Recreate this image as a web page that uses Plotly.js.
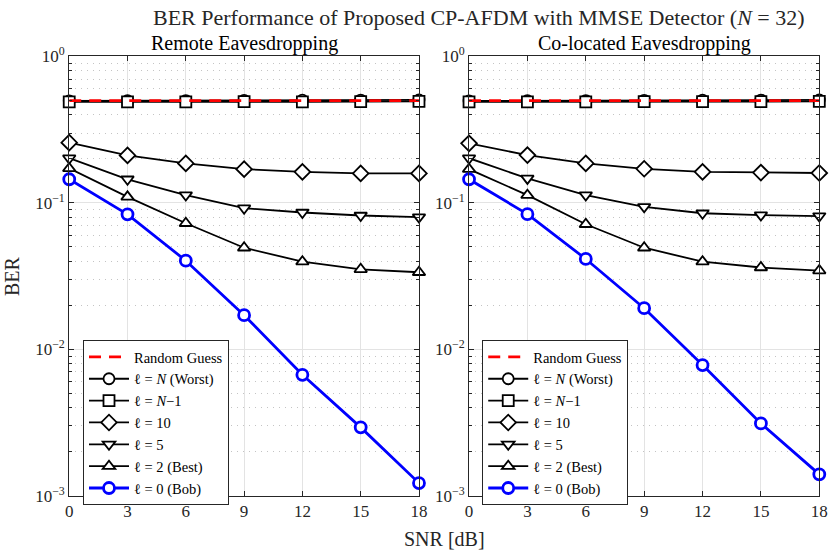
<!DOCTYPE html>
<html>
<head>
<meta charset="utf-8">
<script src="https://cdn.plot.ly/plotly-3.0.1.min.js"></script>
<style>
  body { margin: 0; background: #fff; }
  #chart { width: 830px; height: 557px; }
</style>
</head>
<body>
<div id="chart"></div>
<script>
// SNR points [dB]
var snr = [0, 3, 6, 9, 12, 15, 18];

// Remote eavesdropping
var guessR = [0.5, 0.5, 0.5, 0.5, 0.5, 0.5, 0.5];
var worstR = [0.497, 0.499, 0.500, 0.501, 0.503, 0.504, 0.505];
var nm1R = [0.490, 0.489, 0.490, 0.491, 0.490, 0.492, 0.493];
var l10R = [0.258, 0.211, 0.186, 0.170, 0.163, 0.159, 0.159];
var l5R = [0.202, 0.145, 0.113, 0.092, 0.086, 0.082, 0.080];
var l2R = [0.172, 0.110, 0.0726, 0.0494, 0.0397, 0.0352, 0.0336];
var bobR = [0.145, 0.0836, 0.0403, 0.0171, 0.0067, 0.00293, 0.00122];

// Co-located eavesdropping
var guessC = [0.5, 0.5, 0.5, 0.5, 0.5, 0.5, 0.5];
var worstC = [0.497, 0.499, 0.500, 0.502, 0.503, 0.504, 0.505];
var nm1C = [0.490, 0.490, 0.489, 0.491, 0.491, 0.492, 0.493];
var l10C = [0.255, 0.212, 0.186, 0.171, 0.163, 0.161, 0.160];
var l5C = [0.202, 0.147, 0.113, 0.094, 0.085, 0.0825, 0.0813];
var l2C = [0.170, 0.113, 0.0715, 0.0494, 0.0397, 0.0362, 0.0345];
var bobC = [0.145, 0.0838, 0.0414, 0.0191, 0.0078, 0.00312, 0.0014];

var names = ['Random Guess', 'ℓ = <i>N</i> (Worst)', 'ℓ = <i>N</i>−1', 'ℓ = 10',
             'ℓ = 5', 'ℓ = 2 (Best)', 'ℓ = 0 (Bob)'];
var symbols = ['circle', 'square', 'diamond', 'triangle-down', 'triangle-up'];

var font = 'Liberation Serif, Times New Roman, serif';

function makeTraces(sets, xa, ya, leg) {
  var traces = [];
  // black curves
  for (var i = 0; i < 5; i++) {
    traces.push({
      x: snr, y: sets[i + 1], xaxis: xa, yaxis: ya, legend: leg,
      name: names[i + 1], legendrank: i + 2,
      mode: 'lines+markers', cliponaxis: false,
      line: {color: '#000', width: 1.8},
      marker: {symbol: symbols[i], size: symbols[i] == 'diamond' ? 12 : 11, color: '#fff',
               line: {color: '#000', width: 1.8}}
    });
  }
  // Bob
  traces.push({
    x: snr, y: sets[6], xaxis: xa, yaxis: ya, legend: leg,
    name: names[6], legendrank: 7,
    mode: 'lines+markers', cliponaxis: false,
    line: {color: '#0000ff', width: 2.8},
    marker: {symbol: 'circle', size: 11, color: '#fff', line: {color: '#0000ff', width: 2.8}}
  });
  // random guess on top
  traces.push({
    x: snr, y: sets[0], xaxis: xa, yaxis: ya, legend: leg,
    name: names[0], legendrank: 1,
    mode: 'lines', cliponaxis: false,
    line: {color: '#ff0000', width: 2.8, dash: '12px,8px'}
  });
  return traces;
}

var data = makeTraces([guessR, worstR, nm1R, l10R, l5R, l2R, bobR], 'x', 'y', 'legend')
  .concat(makeTraces([guessC, worstC, nm1C, l10C, l5C, l2C, bobC], 'x2', 'y2', 'legend2'));

var minorVals = [];
for (var e = -3; e < 0; e++) {
  for (var m = 2; m <= 9; m++) minorVals.push(m * Math.pow(10, e));
}

function xAxis(dom, anchor) {
  return {
    domain: dom, anchor: anchor, range: [0, 18],
    tickvals: snr, ticktext: snr.map(String),
    showline: true, linecolor: '#262626', linewidth: 1, mirror: 'ticks',
    ticks: 'inside', ticklen: 5, tickcolor: '#262626',
    showgrid: true, gridcolor: '#e3e3e3', gridwidth: 1, zeroline: false,
    tickfont: {family: font, size: 17, color: '#262626'}
  };
}

function yAxis(dom, anchor) {
  return {
    domain: dom, anchor: anchor, type: 'log', range: [-3, 0],
    tickvals: [0.001, 0.01, 0.1, 1],
    ticktext: ['10<sup>−3</sup>', '10<sup>−2</sup>', '10<sup>−1</sup>', '10<sup>0</sup>'],
    showline: true, linecolor: '#262626', linewidth: 1, mirror: 'ticks',
    ticks: 'inside', ticklen: 5, tickcolor: '#262626',
    showgrid: true, gridcolor: '#e3e3e3', gridwidth: 1, zeroline: false,
    minor: {tickmode: 'array', tickvals: minorVals, ticks: 'inside', ticklen: 3,
            tickcolor: '#262626', showgrid: true, gridcolor: '#c4c4c4', griddash: '1px,5px'},
    tickfont: {family: font, size: 17, color: '#262626'}
  };
}

function legendBox(x) {
  return {
    x: x, y: 0.3896, xanchor: 'left', yanchor: 'top',
    bgcolor: '#fff', bordercolor: '#262626', borderwidth: 1,
    font: {family: font, size: 14.5, color: '#000'},
    tracegroupgap: 0, itemwidth: 40
  };
}

var yDom = [0.110, 0.8986];

var layout = {
  width: 830, height: 557,
  margin: {l: 0, r: 0, t: 0, b: 0},
  paper_bgcolor: '#fff', plot_bgcolor: '#fff',
  font: {family: font, color: '#000'},
  xaxis: xAxis([0.0834, 0.5048], 'y'),
  yaxis: yAxis(yDom, 'x'),
  xaxis2: xAxis([0.5651, 0.9871], 'y2'),
  yaxis2: yAxis(yDom, 'x2'),
  legend: legendBox(0.1),
  legend2: legendBox(0.581),
  annotations: [
    {text: 'BER Performance of Proposed CP-AFDM with MMSE Detector (<i>N</i> = 32)',
     xref: 'paper', yref: 'paper', x: 0.577, y: 1 - 18 / 557, xanchor: 'center', yanchor: 'middle',
     showarrow: false, font: {family: font, size: 22, color: '#262626'}},
    {text: 'Remote Eavesdropping',
     xref: 'paper', yref: 'paper', x: 0.294, y: 1 - 44 / 557, xanchor: 'center', yanchor: 'middle',
     showarrow: false, font: {family: font, size: 20, color: '#000'}},
    {text: 'Co-located Eavesdropping',
     xref: 'paper', yref: 'paper', x: 0.776, y: 1 - 44 / 557, xanchor: 'center', yanchor: 'middle',
     showarrow: false, font: {family: font, size: 20, color: '#000'}},
    {text: 'SNR [dB]',
     xref: 'paper', yref: 'paper', x: 444 / 830, y: 1 - 539 / 557, xanchor: 'center', yanchor: 'middle',
     showarrow: false, font: {family: font, size: 20, color: '#262626'}},
    {text: 'BER', textangle: -90,
     xref: 'paper', yref: 'paper', x: 12 / 830, y: 1 - 276 / 557, xanchor: 'center', yanchor: 'middle',
     showarrow: false, font: {family: font, size: 20, color: '#262626'}}
  ]
};

Plotly.newPlot('chart', data, layout, {displayModeBar: false, staticPlot: true});
</script>
</body>
</html>
